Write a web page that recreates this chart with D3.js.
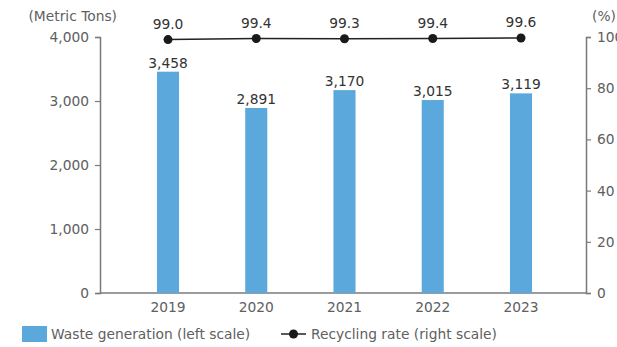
<!DOCTYPE html>
<html>
<head>
<meta charset="utf-8">
<script src="https://cdn.jsdelivr.net/npm/d3@7"></script>
<style>
  body { margin: 0; background: #fff; }
  svg text { font-family: "DejaVu Sans", "Noto Sans", sans-serif; }
</style>
</head>
<body>
<svg id="chart" width="617" height="347"></svg>
<script>
// Annual waste generation (metric tons) and recycling rate (%)
const years = ["2019", "2020", "2021", "2022", "2023"];
const wasteTons = [3458, 2891, 3170, 3015, 3119];
const recyclingRate = [99.0, 99.4, 99.3, 99.4, 99.6];
const leftTicks = [0, 1000, 2000, 3000, 4000];
const rightTicks = [0, 20, 40, 60, 80, 100];

const svg = d3.select("#chart");
const axisColor = "#7a7a7a";
const textColor = "#606060";
const barColor = "#5ba8dc";
const fs = "13.8px";

const plot = { left: 100, right: 586, top: 37, bottom: 293 };

const x = d3.scaleBand().domain(years)
  .range([102, 587])
  .paddingInner(0.75).paddingOuter(0.623);
const yL = d3.scaleLinear().domain([0, 4000]).range([plot.bottom, plot.top]);
const yR = d3.scaleLinear().domain([0, 100]).range([plot.bottom, plot.top]);

function styleAxis(g) {
  g.select(".domain").attr("stroke", axisColor).attr("stroke-width", 1.5);
  g.selectAll(".tick line").attr("stroke", axisColor).attr("stroke-width", 1.2);
  g.selectAll(".tick text").attr("fill", textColor).style("font-size", fs);
}

// Left axis
svg.append("g")
  .attr("transform", `translate(${plot.left},0)`)
  .call(d3.axisLeft(yL).tickValues(leftTicks).tickFormat(d3.format(",")).tickSize(5).tickPadding(6))
  .call(styleAxis);

// Right axis
svg.append("g")
  .attr("transform", `translate(${plot.right},0)`)
  .call(d3.axisRight(yR).tickValues(rightTicks).tickSize(5).tickPadding(6))
  .call(styleAxis);

// Baseline
svg.append("line")
  .attr("x1", plot.left).attr("x2", plot.right)
  .attr("y1", plot.bottom).attr("y2", plot.bottom)
  .attr("stroke", axisColor).attr("stroke-width", 1.5);

// Year labels
svg.append("g").selectAll("text").data(years).join("text")
  .attr("x", d => x(d) + x.bandwidth() / 2)
  .attr("y", 312)
  .attr("text-anchor", "middle")
  .attr("fill", textColor).style("font-size", fs)
  .text(d => d);

// Axis titles
svg.append("text").attr("x", 117).attr("y", 21)
  .attr("text-anchor", "end")
  .attr("fill", textColor).style("font-size", fs).text("(Metric Tons)");
svg.append("text").attr("x", 616).attr("y", 21)
  .attr("text-anchor", "end")
  .attr("fill", textColor).style("font-size", fs).text("(%)");

// Bars
const bars = years.map((y, i) => ({ year: y, value: wasteTons[i] }));
svg.append("g").selectAll("rect").data(bars).join("rect")
  .attr("x", d => x(d.year))
  .attr("width", x.bandwidth())
  .attr("y", d => yL(d.value))
  .attr("height", d => plot.bottom - yL(d.value))
  .attr("fill", barColor);

svg.append("g").selectAll("text").data(bars).join("text")
  .attr("x", d => x(d.year) + x.bandwidth() / 2)
  .attr("y", d => yL(d.value) - 4)
  .attr("text-anchor", "middle")
  .attr("fill", "#333").style("font-size", fs)
  .text(d => d3.format(",")(d.value));

// Recycling rate line
const pts = years.map((y, i) => ({ year: y, value: recyclingRate[i] }));
const cx = d => x(d.year) + x.bandwidth() / 2;
svg.append("path").datum(pts)
  .attr("fill", "none").attr("stroke", "#222").attr("stroke-width", 1.5)
  .attr("d", d3.line().x(cx).y(d => yR(d.value)));
svg.append("g").selectAll("circle").data(pts).join("circle")
  .attr("cx", cx).attr("cy", d => yR(d.value)).attr("r", 4.5)
  .attr("fill", "#1a1a1a");
svg.append("g").selectAll("text").data(pts).join("text")
  .attr("x", cx).attr("y", d => yR(d.value) - 11)
  .attr("text-anchor", "middle")
  .attr("fill", "#333").style("font-size", fs)
  .text(d => d3.format(".1f")(d.value));

// Legend
const lg = svg.append("g");
lg.append("rect").attr("x", 22).attr("y", 326).attr("width", 25).attr("height", 16).attr("fill", barColor);
lg.append("text").attr("x", 51).attr("y", 339).attr("fill", textColor).style("font-size", fs)
  .text("Waste generation (left scale)");
lg.append("line").attr("x1", 281).attr("x2", 306).attr("y1", 334).attr("y2", 334)
  .attr("stroke", "#222").attr("stroke-width", 1.5);
lg.append("circle").attr("cx", 293.5).attr("cy", 334).attr("r", 4.5).attr("fill", "#1a1a1a");
lg.append("text").attr("x", 311).attr("y", 339).attr("fill", textColor).style("font-size", fs)
  .text("Recycling rate (right scale)");
</script>
</body>
</html>
